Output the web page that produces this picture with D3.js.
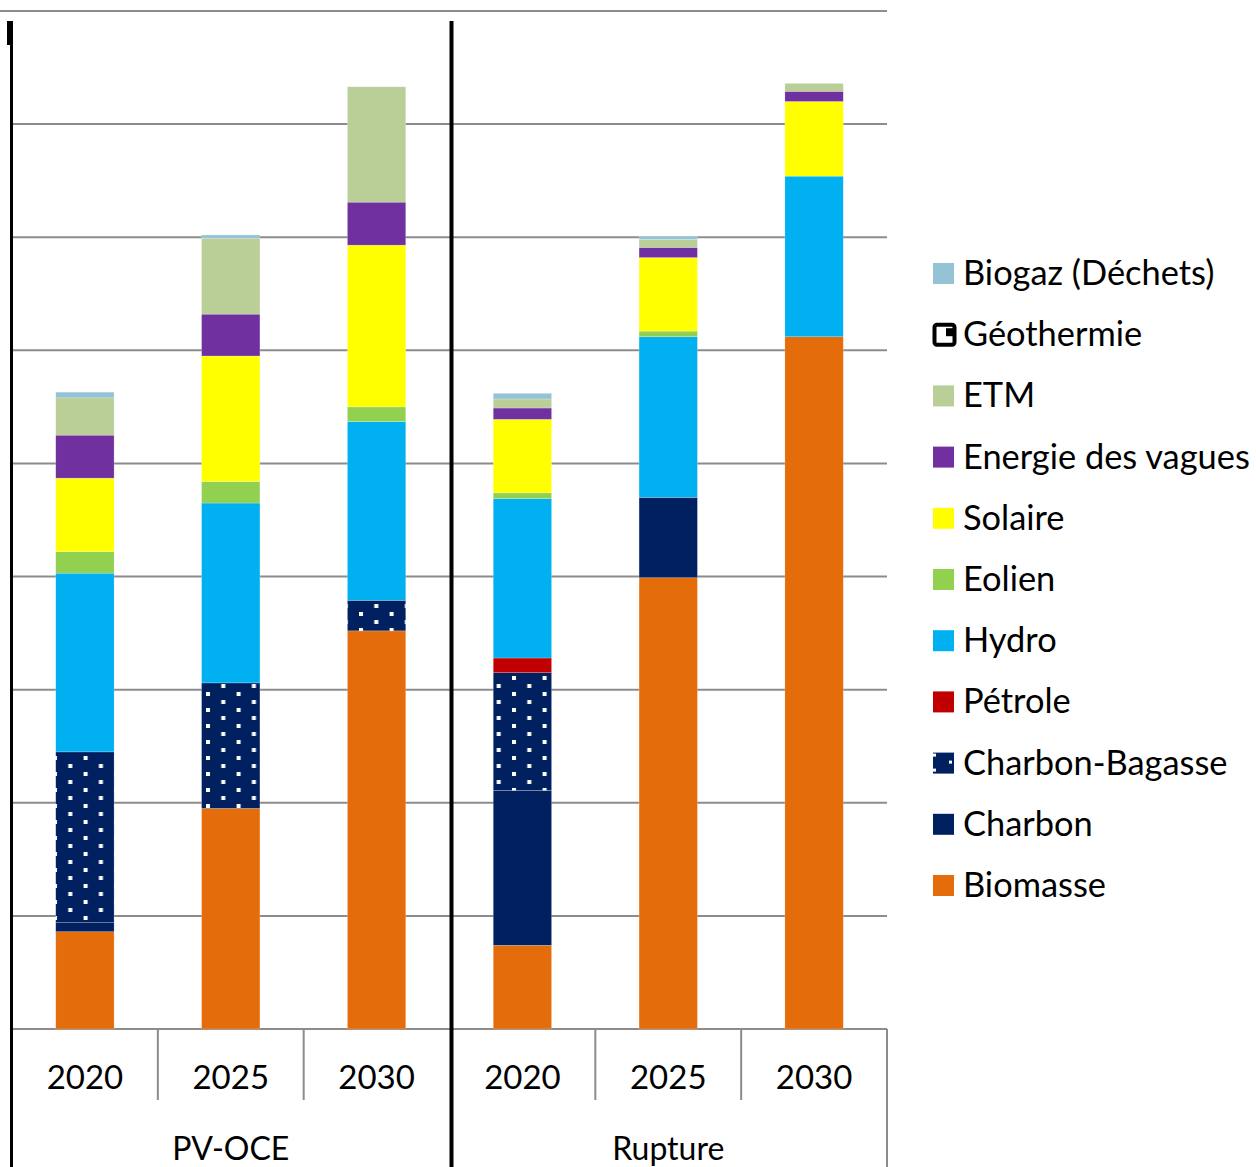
<!DOCTYPE html>
<html><head><meta charset="utf-8">
<script src="https://cdn.jsdelivr.net/npm/d3@7"></script>
<style>html,body{margin:0;padding:0;background:#fff;}svg{display:block;}</style>
</head><body>
<svg id="chart" width="1256" height="1167"></svg>
<script>
const groups = ["PV-OCE", "Rupture"];
const years = ["2020", "2025", "2030"];
const categories = ["PV-OCE 2020", "PV-OCE 2025", "PV-OCE 2030", "Rupture 2020", "Rupture 2025", "Rupture 2030"];
const seriesNames = ["Biomasse", "Charbon", "Charbon-Bagasse", "Pétrole", "Hydro", "Eolien", "Solaire", "Energie des vagues", "ETM", "Géothermie", "Biogaz (Déchets)"];
const biomasse      = [86, 195, 352, 74, 399, 612];
const charbon       = [8, 0, 0, 137, 71, 0];
const charbonBag    = [151, 111, 27, 104, 0, 0];
const petrole       = [0, 0, 0, 13, 0, 0];
const hydro         = [158, 159, 158, 141, 142, 142];
const eolien        = [19, 19, 13, 5, 5, 0];
const solaire       = [65, 111, 143, 65, 65, 66];
const vagues        = [38, 37, 38, 10, 9, 9];
const etm           = [33, 67, 102, 8, 7, 7];
const geothermie    = [0, 0, 0, 0, 0, 0];
const biogaz        = [5, 3, 0, 5, 3, 0];
const gridTicks = [0, 100, 200, 300, 400, 500, 600, 700, 800, 900];
const colors = ["#E46C0A", "#002060", "url(#dots)", "#C00000", "#00B0F0", "#92D050", "#FFFF00", "#7030A0", "#BACE98", "#FFFFFF", "#93C3D5"];

const seriesValues = [biomasse, charbon, charbonBag, petrole, hydro, eolien, solaire, vagues, etm, geothermie, biogaz];
const rows = categories.map((c, i) => {
  const r = {cat: c};
  seriesNames.forEach((s, k) => r[s] = seriesValues[k][i]);
  return r;
});

const svg = d3.select("#chart");
const FONT = "Lato, 'Open Sans', sans-serif";

const defs = svg.append("defs");
const pat = defs.append("pattern").attr("id", "dots").attr("patternUnits", "userSpaceOnUse")
  .attr("width", 30.6).attr("height", 16).attr("x", 53).attr("y", 756);
pat.append("rect").attr("width", 30.6).attr("height", 16).attr("fill", "#002060");
pat.append("rect").attr("x", 0).attr("y", 0).attr("width", 4).attr("height", 4).attr("fill", "#fff");
pat.append("rect").attr("x", 15.3).attr("y", 8).attr("width", 4).attr("height", 4).attr("fill", "#fff");

const x = d3.scaleBand().domain(categories).range([12, 887]).paddingInner(0.6).paddingOuter(0.3);
const y = d3.scaleLinear().domain([0, 900]).range([1029, 11]);

// gridlines
svg.append("g").selectAll("line").data(gridTicks).join("line")
  .attr("x1", d => d === 900 ? 0 : 12).attr("x2", 887)
  .attr("y1", d => y(d)).attr("y2", d => y(d))
  .attr("stroke", "#8c8c8c").attr("stroke-width", 2);

// bars
const stacked = d3.stack().keys(seriesNames)(rows);
svg.append("g").selectAll("g").data(stacked).join("g")
  .attr("fill", (d, i) => colors[i])
  .selectAll("rect").data(d => d.filter(p => p[1] - p[0] > 0)).join("rect")
  .attr("x", d => x(d.data.cat)).attr("width", x.bandwidth())
  .attr("y", d => y(d[1])).attr("height", d => y(d[0]) - y(d[1]))
  .attr("stroke", "rgba(255,255,255,0.35)").attr("stroke-width", 0.6);

// category axis lines
const axisG = svg.append("g");
const step = x.step();
const sepX = [];
groups.forEach((g, gi) => {
  for (let k = 1; k < years.length; k++) {
    const c = categories[gi * 3 + k];
    sepX.push(x(c) - x.paddingInner() * step / 2);
  }
});
axisG.selectAll("line.t").data(sepX).join("line")
  .attr("x1", d => d).attr("x2", d => d).attr("y1", 1029).attr("y2", 1100)
  .attr("stroke", "#8c8c8c").attr("stroke-width", 2);
axisG.append("line").attr("x1", 887).attr("x2", 887).attr("y1", 1029).attr("y2", 1167)
  .attr("stroke", "#8c8c8c").attr("stroke-width", 2);

// year labels
axisG.selectAll("text.y").data(categories).join("text")
  .attr("x", d => x(d) + x.bandwidth() / 2).attr("y", 1089)
  .attr("text-anchor", "middle").attr("font-family", FONT).attr("font-size", 33)
  .text((d, i) => years[i % 3]);

// group labels
const groupCenters = groups.map((g, gi) => {
  const a = x(categories[gi * 3]), b = x(categories[gi * 3 + 2]) + x.bandwidth();
  return (a + b) / 2;
});
axisG.selectAll("text.g").data(groups).join("text")
  .attr("x", (d, i) => groupCenters[i]).attr("y", 1160)
  .attr("text-anchor", "middle").attr("font-family", FONT).attr("font-size", 32)
  .text(d => d);

// black axis lines
svg.append("line").attr("x1", 11.5).attr("x2", 11.5).attr("y1", 21).attr("y2", 1167)
  .attr("stroke", "#000").attr("stroke-width", 3);
svg.append("rect").attr("x", 7).attr("y", 21).attr("width", 6).attr("height", 24).attr("fill", "#000");
const midX = (x(categories[2]) + x.bandwidth() + x(categories[3])) / 2 + 2;
svg.append("line").attr("x1", midX).attr("x2", midX).attr("y1", 21).attr("y2", 1167)
  .attr("stroke", "#000").attr("stroke-width", 4);

// legend
const legendItems = seriesNames.slice().reverse();
const legendColors = colors.slice().reverse();
const lg = svg.append("g").selectAll("g").data(legendItems).join("g")
  .attr("transform", (d, i) => `translate(933, ${273 + i * 61.2})`);
lg.each(function (d, i) {
  const g = d3.select(this);
  if (d === "Géothermie") {
    g.append("rect").attr("x", 1.5).attr("y", -9.5).attr("width", 20).attr("height", 20).attr("rx", 2.5)
      .attr("fill", "#fff").attr("stroke", "#000").attr("stroke-width", 4);
    g.append("rect").attr("x", 13).attr("y", -6).attr("width", 7).attr("height", 8).attr("fill", "#000");
  } else if (d === "Charbon-Bagasse") {
    g.append("rect").attr("x", 0).attr("y", -10).attr("width", 21).attr("height", 21).attr("fill", "#002060");
    g.append("rect").attr("x", 0).attr("y", -9).attr("width", 3).attr("height", 3).attr("fill", "#fff");
    g.append("rect").attr("x", 16).attr("y", -2).attr("width", 3).attr("height", 3).attr("fill", "#fff");
    g.append("rect").attr("x", 0).attr("y", 6).attr("width", 3).attr("height", 3).attr("fill", "#fff");
  } else {
    g.append("rect").attr("x", 0).attr("y", -10).attr("width", 21).attr("height", 21).attr("fill", legendColors[i]);
  }
  g.append("text").attr("x", 30).attr("y", 12).attr("font-family", FONT).attr("font-size", 34.4)
    .attr("fill", "#000").text(d);
});
</script>
</body></html>
